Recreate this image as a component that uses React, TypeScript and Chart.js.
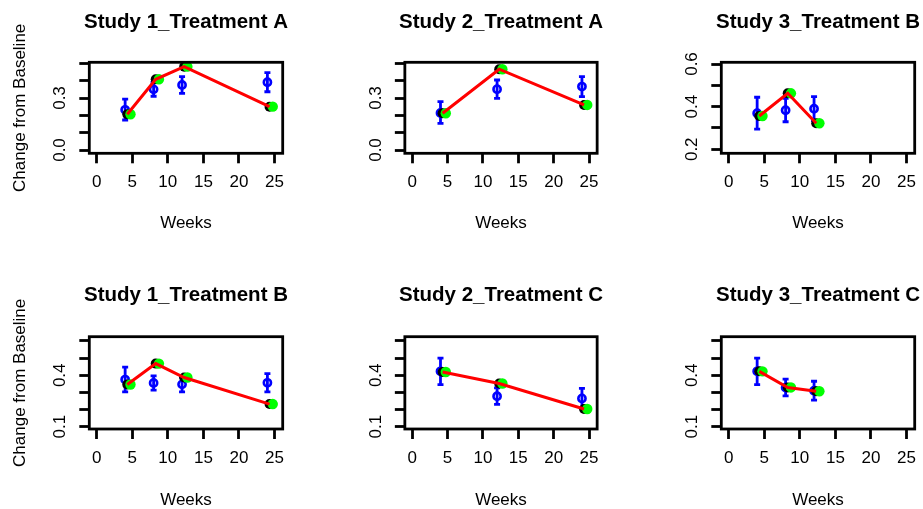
import React, { useEffect, useRef } from "react";
import { Chart, registerables } from "chart.js";
Chart.register(...registerables);

// ---------- data ----------
const panelTitles = [
  "Study 1_Treatment A",
  "Study 2_Treatment A",
  "Study 3_Treatment B",
  "Study 1_Treatment B",
  "Study 2_Treatment C",
  "Study 3_Treatment C",
];

const obsWeeks = [
  [4, 8, 12, 24],
  [4, 12, 24],
  [4, 8, 12],
  [4, 8, 12, 24],
  [4, 12, 24],
  [4, 8, 12],
];

const obsMean = [
  [0.232, 0.35, 0.375, 0.391],
  [0.214, 0.351, 0.366],
  [0.369, 0.383, 0.39],
  [0.375, 0.355, 0.347, 0.356],
  [0.423, 0.278, 0.265],
  [0.423, 0.328, 0.31],
];

const obsLower = [
  [0.173, 0.31, 0.327, 0.336],
  [0.154, 0.298, 0.308],
  [0.294, 0.329, 0.334],
  [0.303, 0.313, 0.303, 0.303],
  [0.346, 0.23, 0.207],
  [0.346, 0.28, 0.255],
];

const obsUpper = [
  [0.294, 0.39, 0.423, 0.446],
  [0.279, 0.404, 0.423],
  [0.444, 0.439, 0.447],
  [0.448, 0.396, 0.39, 0.41],
  [0.5, 0.326, 0.323],
  [0.5, 0.377, 0.365],
];

const fitValues = [
  [0.206, 0.408, 0.481, 0.25],
  [0.212, 0.466, 0.26],
  [0.356, 0.4625, 0.322],
  [0.346, 0.468, 0.387, 0.232],
  [0.419, 0.352, 0.203],
  [0.423, 0.329, 0.307],
];

const xTickValues = [0, 5, 10, 15, 20, 25];
const xLimits = [-1.04, 26.15];

const yTickValues = [
  [0, 0.1, 0.2, 0.3, 0.4, 0.5],
  [0, 0.1, 0.2, 0.3, 0.4, 0.5],
  [0.2, 0.3, 0.4, 0.5, 0.6],
  [0.1, 0.2, 0.3, 0.4, 0.5, 0.6],
  [0.1, 0.2, 0.3, 0.4, 0.5, 0.6],
  [0.1, 0.2, 0.3, 0.4, 0.5, 0.6],
];
const yTickLabelled = [
  [0, 0.3],
  [0, 0.3],
  [0.2, 0.4, 0.6],
  [0.1, 0.4],
  [0.1, 0.4],
  [0.1, 0.4],
];
const yLimits = [
  [-0.019, 0.506],
  [-0.019, 0.506],
  [0.181, 0.608],
  [0.0866, 0.625],
  [0.0866, 0.625],
  [0.0866, 0.625],
];

const xTitle = "Weeks";
const yTitle = "Change from Baseline";

// ---------- layout / style ----------
const FONT = "'Liberation Sans', Arial, Helvetica, sans-serif";
const HALF_W = 186;
const ROW_TOP = [0, 254];
const ROW_H = [254, 255];
const BOX_L = [89.3, 405, 721.3];
const BOX_R = [282.7, 597.3, 914.7];
const BOX_T = [62.3, 336.7];
const BOX_B = [153.3, 429];
const TITLE_CY = [22, 295.8];
const WEEKS_CY = [223.3, 500];
const YTITLE_CX = 20;
const BLACK_SHIFT = 0.3;
const GREEN_SHIFT = 0.75;
const BLUE = "#0000FF";
const RED = "#FF0000";
const GREEN = "#00FF00";

const framePlugin = {
  id: "frame",
  afterDraw(chart: any) {
    const { ctx, chartArea: a } = chart;
    ctx.save();
    ctx.strokeStyle = "#000";
    ctx.lineWidth = 2.8;
    ctx.strokeRect(a.left, a.top, a.right - a.left, a.bottom - a.top);
    ctx.restore();
  },
};

function Panel({ idx }: { idx: number }) {
  const ref = useRef<HTMLCanvasElement>(null);
  const col = idx % 3;
  const row = Math.floor(idx / 3);
  const boxCenter = (BOX_L[col] + BOX_R[col]) / 2;
  const cx = boxCenter - HALF_W;
  const cy = ROW_TOP[row];
  const W = HALF_W * 2;
  const H = ROW_H[row];

  useEffect(() => {
    if (!ref.current) return;
    const boxL = BOX_L[col] - cx;
    const boxR = BOX_R[col] - cx;
    const boxT = BOX_T[row] - cy;
    const boxB = BOX_B[row] - cy;
    const titleC = TITLE_CY[row] - cy;
    const weeksC = WEEKS_CY[row] - cy;
    const showYTitle = col === 0;
    const wY = boxL;
    const wR = W - boxR;
    const titleSize = 20.5;
    const titleLH = titleSize * 1.2;
    const titlePadTop = titleC - titleLH / 2;
    const titlePadBottom = boxT - titlePadTop - titleLH;
    const axisSize = 17;
    const hX = weeksC - boxB + axisSize / 2;
    const pad = { left: 0, right: 0, top: 0, bottom: H - boxB - hX };
    const yTitlePad = YTITLE_CX - cx - axisSize / 2;

    const weeks = obsWeeks[idx];
    const fits = fitValues[idx];
    const labelled = yTickLabelled[idx];

    const datasets: any[] = [];
    datasets.push({
      data: weeks.map((w, i) => ({ x: w + BLACK_SHIFT, y: fits[i] })),
      showLine: true,
      borderColor: RED,
      borderWidth: 3,
      pointRadius: 0,
      order: 0,
    });
    datasets.push({
      data: weeks.map((w, i) => ({ x: w + GREEN_SHIFT, y: fits[i] })),
      pointRadius: 5.2,
      backgroundColor: GREEN,
      borderWidth: 0,
      order: 1,
    });
    datasets.push({
      data: weeks.map((w, i) => ({ x: w + BLACK_SHIFT, y: fits[i] })),
      pointRadius: 5,
      backgroundColor: "#000",
      borderWidth: 0,
      order: 2,
    });
    datasets.push({
      data: weeks.map((w, i) => ({ x: w, y: obsMean[idx][i] })),
      pointRadius: 3.6,
      backgroundColor: "rgba(0,0,0,0)",
      borderColor: BLUE,
      borderWidth: 2.6,
      order: 3,
    });
    weeks.forEach((w, i) => {
      datasets.push({
        data: [
          { x: w, y: obsLower[idx][i] },
          { x: w, y: obsUpper[idx][i] },
        ],
        showLine: true,
        borderColor: BLUE,
        borderWidth: 2.8,
        pointStyle: "line",
        pointRadius: 3,
        pointBorderWidth: 2.8,
        pointBorderColor: BLUE,
        order: 4,
      });
    });

    const zeroPad = (s: any) => {
      s.paddingLeft = 0;
      s.paddingRight = 0;
      s.paddingTop = 0;
      s.paddingBottom = 0;
    };
    const tickGrid = {
      display: true,
      drawOnChartArea: false,
      drawTicks: true,
      tickLength: 10,
      tickWidth: 2.8,
      tickColor: "#000",
    };

    const chart = new Chart(ref.current, {
      type: "scatter",
      data: { datasets },
      plugins: [framePlugin],
      options: {
        responsive: false,
        animation: false,
        events: [],
        layout: { padding: pad },
        plugins: {
          legend: { display: false },
          tooltip: { enabled: false },
          title: {
            display: true,
            text: panelTitles[idx],
            color: "#000",
            fullSize: true,
            font: { family: FONT, size: titleSize, weight: "bold", lineHeight: 1.2 },
            padding: { top: titlePadTop, bottom: titlePadBottom },
          },
        },
        scales: {
          x: {
            type: "linear",
            min: xLimits[0],
            max: xLimits[1],
            bounds: "data",
            afterBuildTicks: (s: any) => {
              s.ticks = xTickValues.map((v) => ({ value: v }));
            },
            afterFit: (s: any) => {
              s.height = hX;
              zeroPad(s);
            },
            border: { display: false },
            grid: tickGrid,
            ticks: {
              autoSkip: false,
              maxRotation: 0,
              minRotation: 0,
              padding: 9,
              color: "#000",
              font: { family: FONT, size: axisSize },
              callback: (v: any) => String(v),
            },
            title: {
              display: true,
              text: xTitle,
              color: "#000",
              font: { family: FONT, size: axisSize, lineHeight: 1 },
              padding: { top: 0, bottom: 0 },
            },
          },
          y: {
            type: "linear",
            position: "left",
            min: yLimits[idx][0],
            max: yLimits[idx][1],
            bounds: "data",
            afterBuildTicks: (s: any) => {
              s.ticks = yTickValues[idx].map((v) => ({ value: v }));
            },
            afterFit: (s: any) => {
              s.width = wY;
              zeroPad(s);
            },
            border: { display: false },
            grid: tickGrid,
            ticks: {
              autoSkip: false,
              minRotation: 90,
              maxRotation: 90,
              crossAlign: "center",
              padding: 7,
              color: "#000",
              font: { family: FONT, size: axisSize },
              callback: (v: any) =>
                labelled.some((l) => Math.abs(l - v) < 1e-9) ? Number(v).toFixed(1) : "",
            },
            title: {
              display: showYTitle,
              text: yTitle,
              color: "#000",
              font: { family: FONT, size: axisSize, lineHeight: 1 },
              padding: { top: yTitlePad, bottom: 0 },
            },
          },
          yRight: {
            type: "linear",
            position: "right",
            min: 0,
            max: 1,
            afterFit: (s: any) => {
              s.width = wR;
              zeroPad(s);
            },
            border: { display: false },
            grid: { display: false, drawTicks: false },
            ticks: { display: false },
            title: { display: false },
          },
        },
      } as any,
    });
    return () => chart.destroy();
  }, [idx]);

  return (
    <canvas
      ref={ref}
      width={W}
      height={H}
      style={{
        position: "absolute",
        left: cx,
        top: cy,
        width: W,
        height: H,
      }}
    />
  );
}

export default function App() {
  return (
    <div
      style={{
        position: "fixed",
        left: 0,
        top: 0,
        width: 923,
        height: 509,
        overflow: "hidden",
        background: "#fff",
      }}
    >
      {panelTitles.map((t, i) => (
        <Panel key={t} idx={i} />
      ))}
    </div>
  );
}
